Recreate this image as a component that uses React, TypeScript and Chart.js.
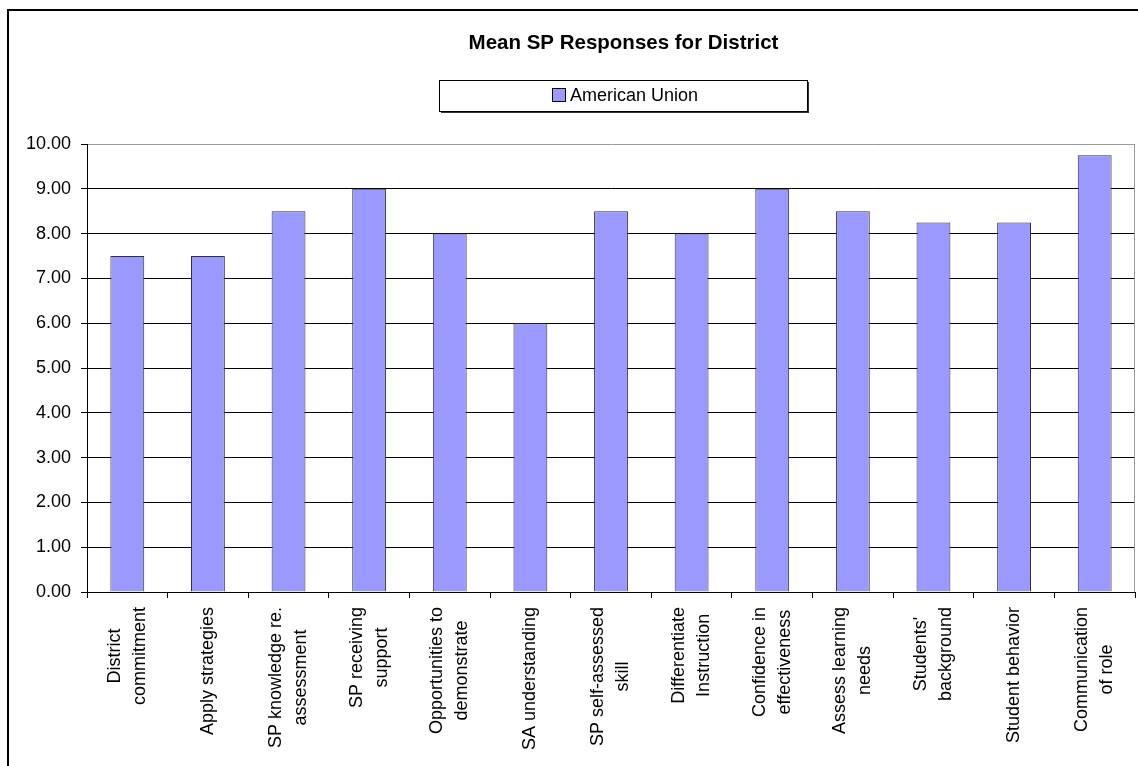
import React, { useEffect, useRef } from 'react';
import { Chart, registerables } from 'chart.js';

Chart.register(...registerables);

const TITLE = 'Mean SP Responses for District';
const SERIES_NAME = 'American Union';
const CATEGORIES: string[][] = [
  ['District', 'commitment'],
  ['Apply strategies'],
  ['SP knowledge re.', 'assessment'],
  ['SP receiving', 'support'],
  ['Opportunities to', 'demonstrate'],
  ['SA understanding'],
  ['SP self-assessed', 'skill'],
  ['Differentiate', 'Instruction'],
  ['Confidence in', 'effectiveness'],
  ['Assess learning', 'needs'],
  ["Students'", 'background'],
  ['Student behavior'],
  ['Communication', 'of role'],
];
const VALUES: number[] = [7.5, 7.5, 8.5, 9.0, 8.0, 6.0, 8.5, 8.0, 9.0, 8.5, 8.25, 8.25, 9.75];
const Y_MIN = 0;
const Y_MAX = 10;
const Y_STEP = 1;

const FONT = '"Liberation Sans", Arial, sans-serif';
const BAR_FILL = '#9999FF';
const W = 1138;
const H = 766;

const decor = {
  id: 'decor',
  beforeDraw(chart: any) {
    const ctx = chart.ctx;
    ctx.save();
    ctx.fillStyle = '#fff';
    ctx.fillRect(0, 0, chart.width, chart.height);
    ctx.strokeStyle = '#000';
    ctx.lineWidth = 2;
    ctx.strokeRect(8, 10, chart.width + 40, chart.height + 40);
    ctx.restore();
  },
  afterDraw(chart: any) {
    const ctx = chart.ctx;
    const area = chart.chartArea;
    ctx.save();
    // plot area right border (grey)
    ctx.strokeStyle = '#9a9a9a';
    ctx.lineWidth = 1;
    ctx.beginPath();
    ctx.moveTo(area.right - 0.5, area.top);
    ctx.lineTo(area.right - 0.5, area.bottom);
    ctx.stroke();

    // title
    ctx.fillStyle = '#000';
    ctx.font = 'bold 20.5px ' + FONT;
    ctx.textAlign = 'center';
    ctx.textBaseline = 'middle';
    ctx.fillText(TITLE, 623.5, 43);

    // legend box with shadow
    ctx.fillStyle = '#333';
    ctx.fillRect(441, 82, 368, 31);
    ctx.fillStyle = '#fff';
    ctx.fillRect(439, 80, 368, 31);
    ctx.strokeStyle = '#000';
    ctx.lineWidth = 1;
    ctx.strokeRect(439.5, 80.5, 368, 31);
    ctx.fillStyle = BAR_FILL;
    ctx.fillRect(552.5, 88.5, 13, 13);
    ctx.strokeRect(552.5, 88.5, 13, 13);
    ctx.fillStyle = '#000';
    ctx.font = '18px ' + FONT;
    ctx.textAlign = 'left';
    ctx.textBaseline = 'middle';
    ctx.fillText(SERIES_NAME, 570, 96);

    // x category labels, rotated, lines centered
    const xs = chart.scales.x;
    const lineGap = 25;
    const top = area.bottom + 15;
    ctx.font = '18px ' + FONT;
    ctx.textAlign = 'center';
    ctx.textBaseline = 'middle';
    CATEGORIES.forEach((lines, i) => {
      const cx = xs.getPixelForValue(i);
      const maxW = Math.max(...lines.map((l) => ctx.measureText(l).width));
      const cy = top + maxW / 2;
      lines.forEach((line, j) => {
        const lx = cx + (j - (lines.length - 1) / 2) * lineGap;
        ctx.save();
        ctx.translate(lx, cy);
        ctx.rotate(-Math.PI / 2);
        ctx.fillText(line, 0, 0);
        ctx.restore();
      });
    });
    ctx.restore();
  },
};

export default function App() {
  const ref = useRef<HTMLCanvasElement | null>(null);
  useEffect(() => {
    if (!ref.current) return;
    const chart = new Chart(ref.current, {
      type: 'bar',
      data: {
        labels: CATEGORIES.map((c) => c.join(' ')),
        datasets: [
          {
            label: SERIES_NAME,
            data: VALUES,
            backgroundColor: BAR_FILL,
            borderColor: '#333',
            borderWidth: 1,
            categoryPercentage: 0.42,
            barPercentage: 1,
          },
        ],
      },
      options: {
        responsive: false,
        animation: false,
        devicePixelRatio: 1,
        layout: { padding: { left: 0, right: 3, top: 144, bottom: 0 } },
        plugins: {
          legend: { display: false },
          title: { display: false },
          tooltip: { enabled: false },
        },
        scales: {
          x: {
            grid: {
              display: true,
              drawOnChartArea: false,
              drawTicks: true,
              tickLength: 6,
              color: '#000',
              offset: true,
            },
            border: { display: true, color: '#000', width: 1 },
            ticks: { display: false },
            afterFit: (s: any) => {
              s.height = 174;
            },
          },
          y: {
            min: Y_MIN,
            max: Y_MAX,
            ticks: {
              stepSize: Y_STEP,
              color: '#000',
              padding: 10,
              font: { size: 18, family: FONT },
              callback: (v: any) => Number(v).toFixed(2),
            },
            grid: {
              color: (c: any) => (c.tick && c.tick.value === Y_MAX ? '#9a9a9a' : '#000'),
              tickColor: '#000',
              tickLength: 6,
              lineWidth: 1,
            },
            border: { display: true, color: '#000', width: 1 },
            afterFit: (s: any) => {
              s.width = 87;
            },
          },
        },
      },
      plugins: [decor],
    });
    return () => chart.destroy();
  }, []);
  return (
    <div
      style={{
        position: 'fixed',
        left: 0,
        top: 0,
        width: W,
        height: H,
        overflow: 'hidden',
        background: '#fff',
      }}
    >
      <canvas ref={ref} width={W} height={H} style={{ display: 'block', width: W, height: H }} />
    </div>
  );
}
